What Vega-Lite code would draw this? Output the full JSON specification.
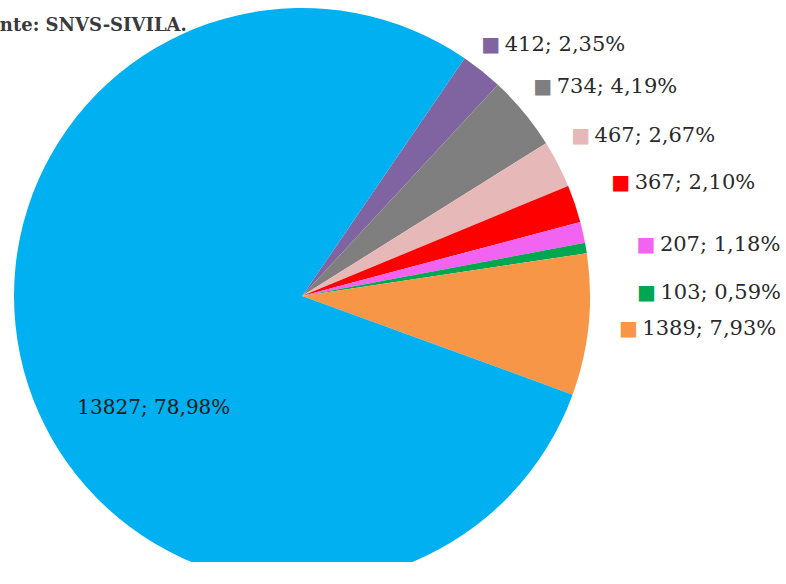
{
  "$schema": "https://vega.github.io/schema/vega-lite/v6.json",
  "autosize": "none",
  "width": 604,
  "height": 532,
  "padding": {"left": 0, "top": 30, "right": 182, "bottom": 0},
  "background": "white",
  "title": {
    "text": "Fonte: SNVS-SIVILA.",
    "anchor": "start",
    "frame": "group",
    "dx": -24,
    "dy": 29,
    "offset": 2,
    "font": "DejaVu Serif",
    "fontSize": 18,
    "fontWeight": "bold",
    "color": "#3a3a3a"
  },
  "data": {
    "values": [
      {"cat": "Roxo", "v": 412, "label": "412; 2,35%", "o": 1},
      {"cat": "Cinza", "v": 734, "label": "734; 4,19%", "o": 2},
      {"cat": "Rosa", "v": 467, "label": "467; 2,67%", "o": 3},
      {"cat": "Vermelho", "v": 367, "label": "367; 2,10%", "o": 4},
      {"cat": "Magenta", "v": 207, "label": "207; 1,18%", "o": 5},
      {"cat": "Verde", "v": 103, "label": "103; 0,59%", "o": 6},
      {"cat": "Laranja", "v": 1389, "label": "1389; 7,93%", "o": 7},
      {"cat": "Azul", "v": 13827, "label": "13827;  78,98%", "o": 8}
    ]
  },
  "encoding": {
    "theta": {"field": "v", "type": "quantitative", "stack": true, "scale": {"range": [0.6, 6.8832]}},
    "order": {"field": "o", "type": "quantitative"},
    "color": {
      "field": "cat", "type": "nominal", "legend": null,
      "scale": {
        "domain": ["Roxo", "Cinza", "Rosa", "Vermelho", "Magenta", "Verde", "Laranja", "Azul"],
        "range": ["#8064A2", "#7F7F7F", "#E6B9B8", "#FF0000", "#F263F2", "#00A650", "#F79646", "#00B0F0"]
      }
    }
  },
  "layer": [
    {"mark": {"type": "arc", "outerRadius": 288}},
    {
      "mark": {
        "type": "text", "radius": 328, "font": "DejaVu Sans", "fontSize": 20, "align": "center", "baseline": "middle",
        "dx": {"expr": "datum.cat === 'Roxo' ? -16 : datum.cat === 'Cinza' ? -12 : datum.cat === 'Rosa' ? -13 : datum.cat === 'Vermelho' ? 8 : datum.cat === 'Magenta' ? 24 : datum.cat === 'Verde' ? 21 : 0"},
        "dy": {"expr": "datum.cat === 'Roxo' ? 5 : datum.cat === 'Rosa' ? -10 : datum.cat === 'Vermelho' ? -8 : datum.cat === 'Magenta' ? 22 : datum.cat === 'Verde' ? 52 : 0"}
      },
      "encoding": {
        "text": {"condition": {"test": "datum.cat === 'Azul'", "value": ""}, "value": "■"}
      }
    },
    {
      "mark": {
        "type": "text", "radius": 328, "font": "DejaVu Serif", "fontSize": 21, "align": "left", "baseline": "middle",
        "dx": {"expr": "14 + (datum.cat === 'Roxo' ? -16 : datum.cat === 'Cinza' ? -12 : datum.cat === 'Rosa' ? -13 : datum.cat === 'Vermelho' ? 8 : datum.cat === 'Magenta' ? 24 : datum.cat === 'Verde' ? 21 : 0)"},
        "dy": {"expr": "datum.cat === 'Roxo' ? 5 : datum.cat === 'Rosa' ? -10 : datum.cat === 'Vermelho' ? -8 : datum.cat === 'Magenta' ? 22 : datum.cat === 'Verde' ? 52 : 0"}
      },
      "encoding": {
        "color": {"value": "#2a2a2a"},
        "text": {"condition": {"test": "datum.cat === 'Azul'", "value": ""}, "field": "label"}
      }
    },
    {
      "mark": {"type": "text", "radius": 185, "font": "DejaVu Serif", "fontSize": 20, "align": "center", "baseline": "middle", "dx": 28, "dy": 55},
      "encoding": {
        "color": {"value": "#1a1a1a"},
        "text": {"condition": {"test": "datum.cat !== 'Azul'", "value": ""}, "field": "label"}
      }
    }
  ]
}
